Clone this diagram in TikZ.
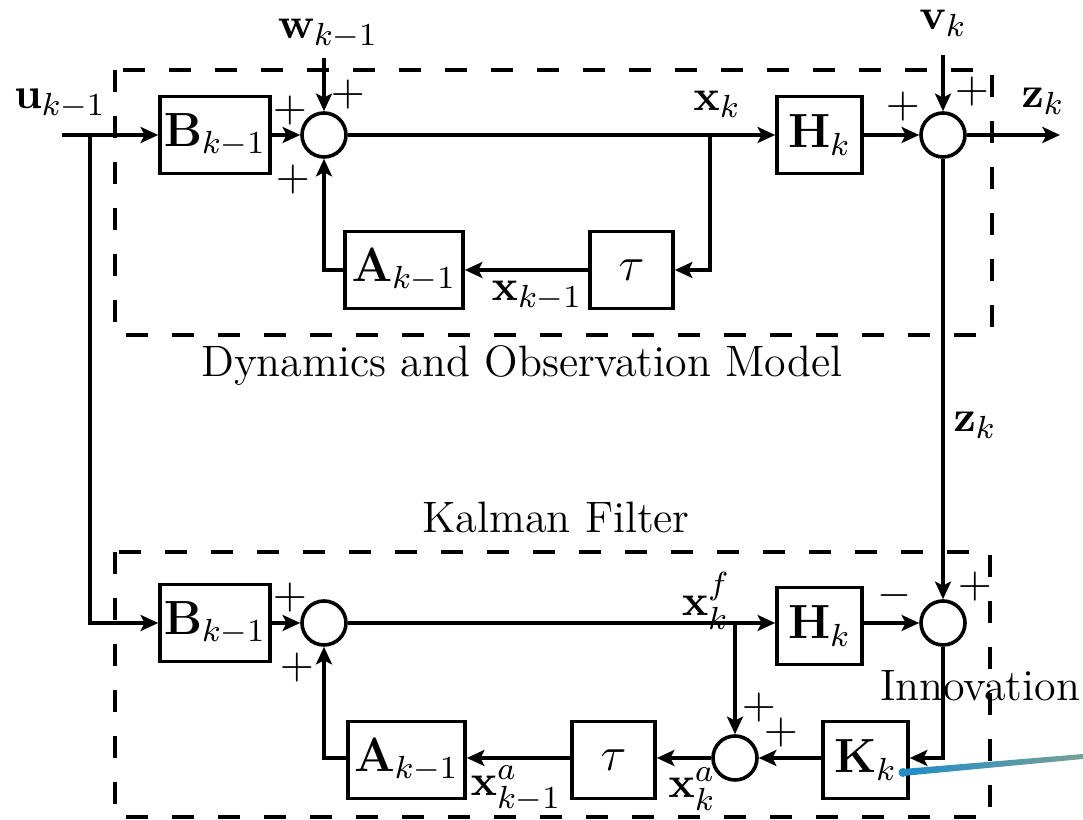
\documentclass[tikz,border=0pt]{standalone}
\usepackage{amsmath}
\usetikzlibrary{arrows.meta}
\begin{document}
\begin{tikzpicture}[x=0.25pt,y=-0.25pt,
  font=\fontsize{11}{13}\selectfont,
  line width=0.9pt,
  blk/.style={draw,rectangle,inner sep=0pt,minimum height=19.25pt,font=\fontsize{12}{14}\selectfont},
  sumnode/.style={draw,circle,inner sep=0pt,minimum size=11pt},
  sgn/.style={font=\fontsize{11}{13}\selectfont,inner sep=0pt},
  lbl/.style={inner sep=0pt},
  frame/.style={line width=0.9pt,dash pattern=on 5.5pt off 6pt},
  flow/.style={-{Stealth[length=4.4pt,width=4pt,inset=1pt]}}]
\useasboundingbox (0,0) rectangle (1083,820);

% model and filter frames
\draw[frame] (115,70) rectangle (992,335);
\draw[frame] (115,552) rectangle (990,817);
\node[lbl] (tmodel) at (522,366) {Dynamics and Observation Model};
\node[lbl] (tfilter) at (556,517) {Kalman Filter};
\node[lbl] (tinnov) at (980,686) {Innovation};

% dynamics and observation model
\node[blk,minimum width=27.5pt] (B1) at (215,135) {$\mathbf{B}_{k-1}$};
\node[sumnode] (S1) at (324,135) {};
\node[blk,minimum width=21.25pt] (H1) at (819.5,135) {$\mathbf{H}_{k}$};
\node[sumnode] (S2) at (943,135) {};
\node[blk,minimum width=20.75pt] (T1) at (631.5,270) {$\tau$};
\node[blk,minimum width=29.5pt] (A1) at (404,270) {$\mathbf{A}_{k-1}$};

% Kalman filter
\node[blk,minimum width=27.5pt] (B2) at (215,623) {$\mathbf{B}_{k-1}$};
\node[sumnode] (S4) at (324,623) {};
\node[blk,minimum width=21.25pt] (H2) at (819.5,626) {$\mathbf{H}_{k}$};
\node[sumnode] (S3) at (943,623) {};
\node[sumnode] (S5) at (735,758) {};
\node[blk,minimum width=21.25pt] (K) at (865.5,760) {$\mathbf{K}_{k}$};
\node[blk,minimum width=20.75pt] (T2) at (613.5,760) {$\tau$};
\node[blk,minimum width=29.25pt] (A2) at (406.5,760) {$\mathbf{A}_{k-1}$};

\coordinate (uin) at (62,135);
\coordinate (su) at (90,135);
\coordinate (win) at (324,58);
\coordinate (vin) at (943,55);
\coordinate (zout) at (1060,135);
\coordinate (sx) at (710,135);
\coordinate (sxf) at (735,623);

\node[lbl] (lu) at (60,104) {$\mathbf{u}_{k-1}$};
\node[lbl] (lw) at (328,34) {$\mathbf{w}_{k-1}$};
\node[lbl] (lv) at (943,23) {$\mathbf{v}_{k}$};
\node[lbl] (lz) at (1043,101) {$\mathbf{z}_{k}$};
\node[lbl] (lx) at (717,104) {$\mathbf{x}_{k}$};
\node[lbl] (lxm) at (537,296) {$\mathbf{x}_{k-1}$};
\node[lbl] (lzk) at (975,425) {$\mathbf{z}_{k}$};
\node[lbl] (lxf) at (706,601) {$\mathbf{x}_{k}^{f}$};
\node[lbl] (lxa) at (692,789) {$\mathbf{x}_{k}^{a}$};
\node[lbl] (lxam) at (516,789) {$\mathbf{x}_{k-1}^{a}$};

\node[sgn] at (290,111) {$+$};
\node[sgn] at (348,95) {$+$};
\node[sgn] at (293,180) {$+$};
\node[sgn] at (903,107) {$+$};
\node[sgn] at (972,92) {$+$};
\node[sgn] at (290,598) {$+$};
\node[sgn] at (297,668) {$+$};
\node[sgn] at (895,596) {$-$};
\node[sgn] at (975,587) {$+$};
\node[sgn] at (759,708) {$+$};
\node[sgn] at (781,733) {$+$};

% model signal paths
\draw[flow] (uin) -- (B1.west);
\draw[flow] (su) |- (B2.west);
\draw[flow] (B1.east) -- (S1.west);
\draw[flow] (win) -- (S1.north);
\draw (S1.east) -- (sx);
\draw[flow] (sx) -- (H1.west);
\draw[flow] (sx) |- (T1.east);
\draw[flow] (T1.west) -- (A1.east);
\draw[flow] (A1.west) -| (S1.south);
\draw[flow] (H1.east) -- (S2.west);
\draw[flow] (vin) -- (S2.north);
\draw[flow] (S2.east) -- (zout);

% filter signal paths
\draw[flow] (S2.south) -- (S3.north);
\draw[flow] (B2.east) -- (S4.west);
\draw (S4.east) -- (sxf);
\draw[flow] (S4.east) -- (H2.west |- S4.east);
\draw[flow] (sxf) -- (S5.north);
\draw[flow] (H2.east |- S3.west) -- (S3.west);
\draw[flow] (S3.south) |- (K.east |- S5.east);
\draw[flow] (K.west |- S5.east) -- (S5.east);
\draw[flow] (S5.west) -- (T2.east |- S5.west);
\draw[flow] (T2.west |- S5.west) -- (A2.east |- S5.west);
\draw[flow] (A2.west |- S5.west) -| (S4.south);

% pen stroke leaving the gain block
\definecolor{penA}{RGB}{30,140,200}
\definecolor{penB}{RGB}{70,175,150}
\definecolor{penC}{RGB}{120,160,150}
\shade[left color=penA, middle color=penB, right color=penC, line width=0pt]
  (903,769) -- (1083,754) -- (1083,759) -- (903,776) -- cycle;
\fill[penA] (903,772.5) circle (4.5);
\end{tikzpicture}
\end{document}
